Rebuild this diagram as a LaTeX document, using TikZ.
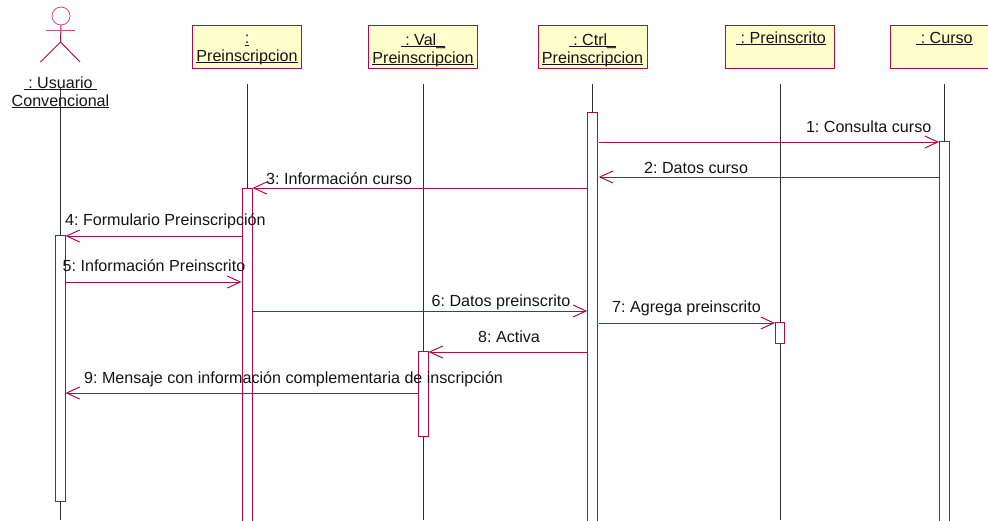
\documentclass[tikz,border=0pt]{standalone}
\usepackage{fontspec}
\setmainfont{Liberation Sans}
\usetikzlibrary{arrows.meta}
\frenchspacing
\definecolor{umlline}{HTML}{A80F48}
\definecolor{umlhead}{HTML}{C8507A}
\definecolor{umlfill}{HTML}{FFFFCC}
\definecolor{umltext}{HTML}{141414}
\definecolor{lifecol}{HTML}{303030}
\newlength\ulw
\newcommand\ulbl[1]{\settowidth\ulw{#1}\rlap{#1}\rule[-1.8pt]{\ulw}{0.9pt}}
\tikzset{
  objbox/.style={draw=umlline,fill=umlfill,line width=1pt,minimum width=109pt,minimum height=43pt,inner sep=0pt},
  objtext/.style={text=umltext,font=\fontsize{16.1}{17.7}\selectfont,align=center,inner sep=0pt},
  life/.style={draw=lifecol,line width=0.8pt},
  bar/.style={draw=umlline,fill=white,line width=1pt,inner sep=0pt},
  msg/.style={draw=umlline,line width=1pt,-{Straight Barb[length=13pt,width=12pt,line width=1pt]}},
  msgtext/.style={text=umltext,font=\fontsize{16.1}{17.7}\selectfont,inner sep=0pt},
  actorline/.style={draw=umlline,line width=1pt}
}
\begin{document}
\begin{tikzpicture}[x=1pt,y=-1pt]
\useasboundingbox (0,0) rectangle (988,520);
\clip (0,0) rectangle (988,520);
% boxes
\node[objbox] (pre) at (247,47) {};
\node[objbox] (val) at (422.5,47) {};
\node[objbox] (ctl) at (592.8,47) {};
\node[objbox] (ins) at (779.5,47) {};
\node[objbox] (cur) at (944.5,47) {};
\node[objtext] (tpre) at (247,50) {\ulbl{:}\\\ulbl{Preinscripcion}};
\node[objtext] (tval) at (423,50) {\ulbl{ : Val\_}\\\ulbl{Preinscripcion}};
\node[objtext] (tctl) at (592.5,50) {\ulbl{ : Ctrl\_}\\\ulbl{Preinscripcion}};
\node[objtext,anchor=base] (tins) at (781,43.5) {\ulbl{ : Preinscrito}};
\node[objtext,anchor=base] (tcur) at (944.5,43.5) {\ulbl{ : Curso}};
% actor
\node[draw=umlhead,line width=0.8pt,circle,minimum size=18pt,inner sep=0pt] (head) at (61,16) {};
\coordinate (armL) at (46,30);
\coordinate (armR) at (75,30);
\coordinate (hip) at (60.5,42);
\coordinate (legL) at (40.5,62);
\coordinate (legR) at (80,62);
\draw[actorline] (head.south) -- (hip);
\draw[actorline,draw=umlhead] (armL) -- (armR);
\draw[actorline] (legL) -- (hip) -- (legR);
\node[objtext] (tact) at (60.5,92.5) {\ulbl{ : Usuario }\\\ulbl{Convencional}};
% lifeline ends
\coordinate (lact) at (60,87);
\coordinate (lpre) at (247,84);
\coordinate (lval) at (423,84);
\coordinate (lctl) at (592.5,84);
\coordinate (lins) at (780.5,84);
\coordinate (lcur) at (944.3,84);
\foreach \n in {act,pre,val,ctl,ins,cur}{\draw[life] (l\n) -- (l\n |- 0,520);}
% activations
\node[bar,minimum width=10pt,minimum height=266pt] (bact) at (60,368) {};
\node[bar,minimum width=10pt,minimum height=334pt] (bpre) at (247,355) {};
\node[bar,minimum width=10pt,minimum height=85pt] (bval) at (423,393.5) {};
\node[bar,minimum width=9.5pt,minimum height=410pt] (bctl) at (592.5,317) {};
\node[bar,minimum width=9pt,minimum height=20.5pt] (bins) at (780,332.8) {};
\node[bar,minimum width=9.5pt,minimum height=381pt] (bcur) at (944.3,331.5) {};
\coordinate (cright) at ([xshift=1pt]bctl.east);
% messages
\draw[msg] (cright |- 0,142) -- (bcur.west |- 0,142);
\draw[msg] (bcur.west |- 0,177) -- (cright |- 0,177);
\draw[msg] (bctl.west |- 0,188) -- (bpre.east |- 0,188);
\draw[msg] (bpre.west |- 0,236) -- (bact.east |- 0,236);
\draw[msg] (bact.east |- 0,282) -- (bpre.west |- 0,282);
\draw[msg] (bpre.east |- 0,311) -- (bctl.west |- 0,311);
\draw[msg] (cright |- 0,323) -- (bins.west |- 0,323);
\draw[msg] (bctl.west |- 0,352) -- (bval.east |- 0,352);
\draw[msg] (bval.west |- 0,393) -- (bact.east |- 0,393);
% labels
\node[msgtext,anchor=base east] (m1) at (931.5,132) {1: Consulta curso};
\node[msgtext,anchor=base west] (m2) at (644,173) {2: Datos curso};
\node[msgtext,anchor=base west] (m3) at (266,184) {3: Información curso};
\node[msgtext,anchor=base west] (m4) at (65,225) {4: Formulario Preinscripción};
\node[msgtext,anchor=base west] (m5) at (62.5,271) {5: Información Preinscrito};
\node[msgtext,anchor=base west] (m6) at (431.5,306) {6: Datos preinscrito};
\node[msgtext,anchor=base west] (m7) at (612,312) {7: Agrega preinscrito};
\node[msgtext,anchor=base west] (m8) at (478,342) {8: Activa};
\node[msgtext,anchor=base west] (m9) at (84,383) {9: Mensaje con información complementaria de inscripción};
\end{tikzpicture}
\end{document}
